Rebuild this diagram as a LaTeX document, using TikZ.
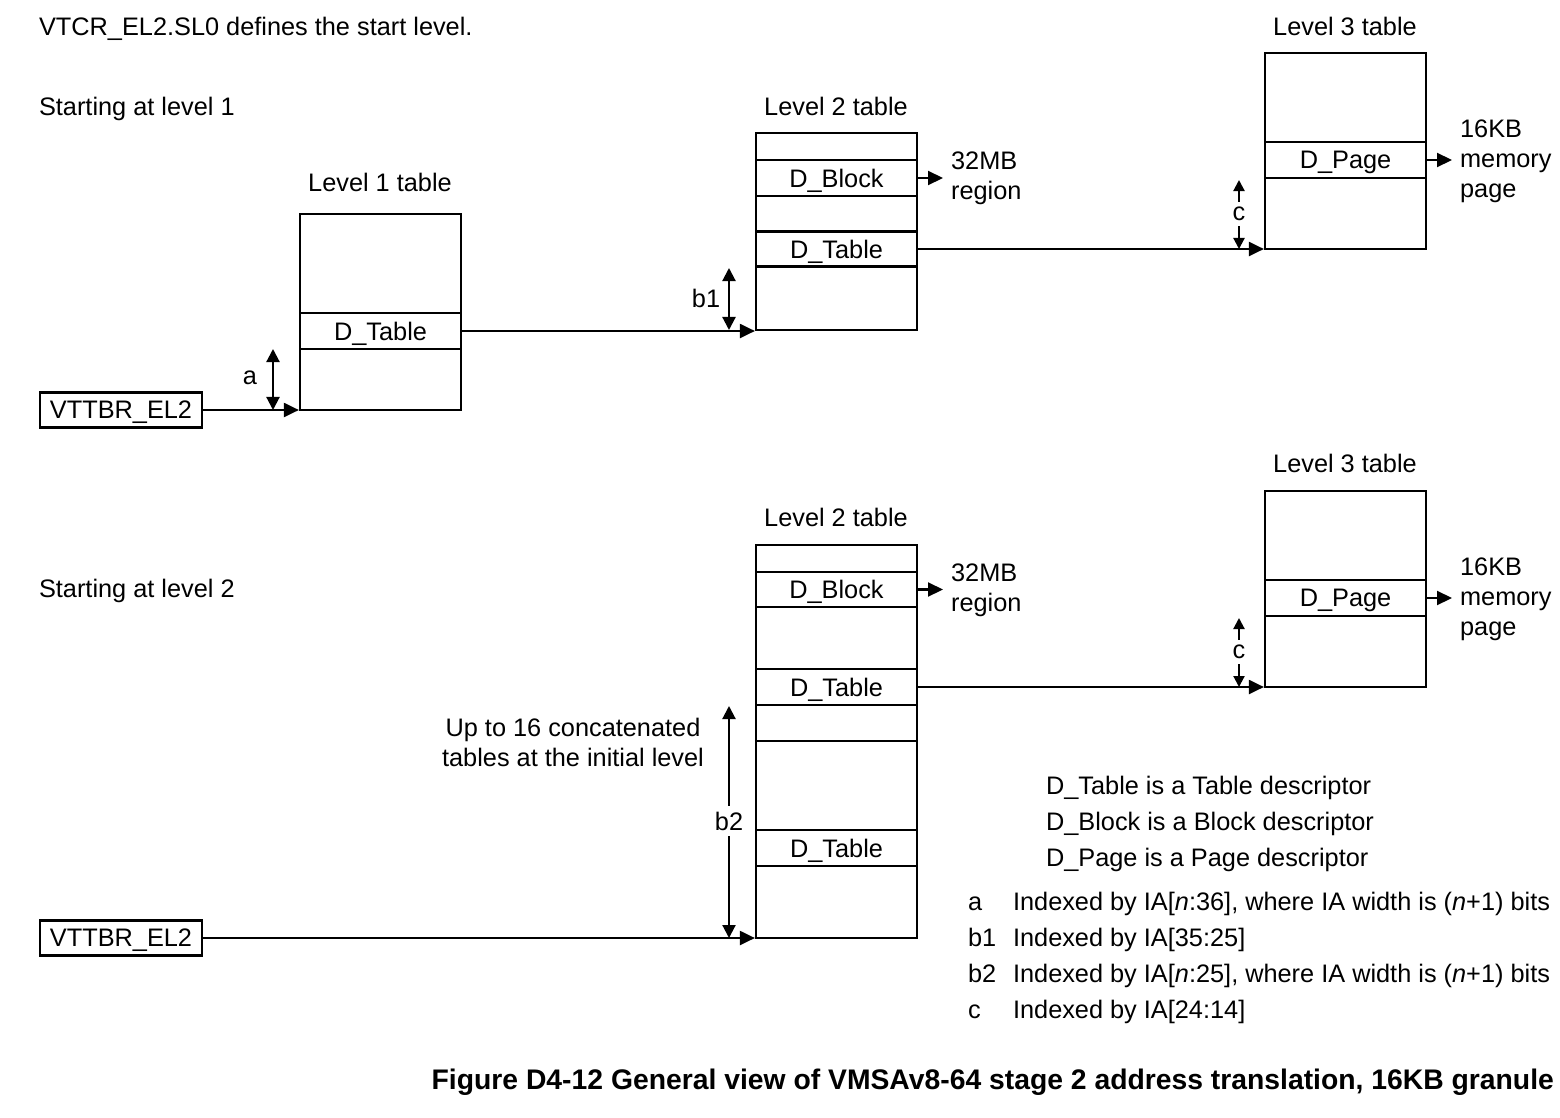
\documentclass[tikz,border=0pt]{standalone}
\usepackage{fontspec}
\setmainfont{Liberation Sans}
\usetikzlibrary{arrows.meta,positioning}

\tikzset{
  tblbox/.style={draw, minimum width=1.61cm, inner sep=0pt},
  entry/.style={draw, minimum width=1.61cm, minimum height=0.36cm, inner sep=0pt, text depth=0pt},
  regbox/.style={draw, minimum width=1.62cm, minimum height=0.35cm, inner sep=0pt, text depth=0pt},
  txt/.style={inner sep=0pt},
  endtxt/.style={align=left, inner xsep=2pt, inner ysep=0pt},
  ptr/.style={-{Triangle[length=1.5mm,width=1.4mm]}},
  idx/.style={{Triangle[length=1.3mm,width=1.3mm]}-{Triangle[length=1.3mm,width=1.3mm]}},
  idxc/.style={{Triangle[length=1.1mm,width=1.1mm]}-{Triangle[length=1.1mm,width=1.1mm]}},
}

\begin{document}
\begin{tikzpicture}[x=0.01cm, y=-0.01cm, line width=0.6pt, font=\fontsize{7.2}{8.5}\selectfont]

  \useasboundingbox (0,0) rectangle (1560,1118);

  % headings
  \node[txt, anchor=base west] (sl0) at (38,35) {VTCR\_EL2.SL0 defines the start level.};
  \node[txt, anchor=base west] (start1) at (38,115) {Starting at level 1};
  \node[txt, anchor=base west] (start2) at (38,597) {Starting at level 2};

  % ---- start at level 1 ----
  \node[regbox] (ttbr1) at (121,410) {VTTBR\_EL2};

  \node[tblbox, minimum height=1.96cm] (l1) at (380.5,312) {};
  \node[entry] (l1dt) at (380.5,331) {D\_Table};
  \node[txt] (l1lab) at (380,182) {Level 1 table};

  \node[tblbox, minimum height=1.97cm] (l2) at (836.5,231.5) {};
  \node[entry] (l2db) at (836.5,178) {D\_Block};
  \node[entry, minimum height=0.35cm] (l2dt) at (836.5,249) {D\_Table};
  \node[txt] (l2lab) at (836,106) {Level 2 table};
  \node[endtxt, anchor=west] (l2mem) at (943,178) {32MB\\region};

  \node[tblbox, minimum height=1.96cm] (l3) at (1345.5,151) {};
  \node[entry] (l3dp) at (1345.5,160) {D\_Page};
  \node[txt] (l3lab) at (1345,26) {Level 3 table};
  \node[endtxt, anchor=west] (l3mem) at (1452,161) {16KB\\memory\\page};

  \draw[ptr] (ttbr1.east) -- (ttbr1.east -| l1.west);
  \draw[ptr] (l1dt.east) -- (l1dt.east -| l2.west);
  \draw[ptr] (l2dt.east) -- (l2dt.east -| l3.west);
  \draw[ptr] (l2db.east) -- (l2db.east -| l2mem.west);
  \draw[ptr] (l3dp.east) -- (l3dp.east -| l3mem.west);

  \coordinate (a1) at (273,349);
  \coordinate (a2) at (273,410);
  \draw[idx] (a1) -- (a2);
  \node[txt] (alab) at (250,378) {a};

  \coordinate (b1t) at (729,268);
  \coordinate (b1b) at (729,330);
  \draw[idx] (b1t) -- (b1b);
  \node[txt] (b1lab) at (706,298) {b1};

  \coordinate (c1t) at (1239,180);
  \coordinate (c1b) at (1239,249);
  \draw[idxc] (c1t) -- (c1b);
  \node[fill=white, inner sep=1.5pt] (c1lab) at (1239,214) {c};

  % ---- start at level 2 ----
  \node[regbox] (ttbr2) at (121,938) {VTTBR\_EL2};

  \node[tblbox, minimum height=3.93cm] (l2b) at (836.5,741.5) {};
  \node[entry, minimum height=0.35cm] (l2bdb) at (836.5,589.5) {D\_Block};
  \node[entry] (l2bdt) at (836.5,687) {D\_Table};
  \node[entry] (l2bdt2) at (836.5,848) {D\_Table};
  \coordinate (cut) at (0,741);
  \draw (cut -| l2b.west) -- (cut -| l2b.east);
  \node[txt] (l2blab) at (836,517) {Level 2 table};
  \node[endtxt, anchor=west] (l2bmem) at (943,590) {32MB\\region};

  \node[tblbox, minimum height=1.96cm] (l3b) at (1345.5,589) {};
  \node[entry] (l3bdp) at (1345.5,598) {D\_Page};
  \node[txt] (l3blab) at (1345,463) {Level 3 table};
  \node[endtxt, anchor=west] (l3bmem) at (1452,599) {16KB\\memory\\page};

  \draw[ptr] (ttbr2.east) -- (ttbr2.east -| l2b.west);
  \draw[ptr] (l2bdt.east) -- (l2bdt.east -| l3b.west);
  \draw[ptr] (l2bdb.east) -- (l2bdb.east -| l2bmem.west);
  \draw[ptr] (l3bdp.east) -- (l3bdp.east -| l3bmem.west);

  \coordinate (b2t) at (729,706);
  \coordinate (b2b) at (729,938);
  \draw[idx] (b2t) -- (b2b);
  \node[fill=white, inner sep=1.5pt] (b2lab) at (729,821) {b2};
  \node[txt, align=center] (concat) at (573,742) {Up to 16 concatenated\\tables at the initial level};

  \coordinate (c2t) at (1239,618);
  \coordinate (c2b) at (1239,687);
  \draw[idxc] (c2t) -- (c2b);
  \node[fill=white, inner sep=1.5pt] (c2lab) at (1239,652) {c};

  % legend
  \node[txt, anchor=base west] (lgt) at (1045,794) {D\_Table is a Table descriptor};
  \node[txt, anchor=base west] (lgb) at (1045,830) {D\_Block is a Block descriptor};
  \node[txt, anchor=base west] (lgp) at (1045,866) {D\_Page is a Page descriptor};

  \node[txt, anchor=base west] (ka) at (967,910) {a};
  \node[txt, anchor=base west] (kb1) at (967,946) {b1};
  \node[txt, anchor=base west] (kb2) at (967,982) {b2};
  \node[txt, anchor=base west] (kc) at (967,1018) {c};
  \node[txt, anchor=base west] (kat) at (1012,910) {Indexed by IA[\textit{n}:36], where IA width is (\textit{n}+1) bits};
  \node[txt, anchor=base west] (kb1t) at (1012,946) {Indexed by IA[35:25]};
  \node[txt, anchor=base west] (kb2t) at (1012,982) {Indexed by IA[\textit{n}:25], where IA width is (\textit{n}+1) bits};
  \node[txt, anchor=base west] (kct) at (1012,1018) {Indexed by IA[24:14]};

  % caption
  \node[txt, anchor=base east, font=\bfseries\fontsize{8.05}{9.5}\selectfont] (cap) at (1555,1089)
    {Figure D4-12 General view of VMSAv8-64 stage 2 address translation, 16KB granule};

\end{tikzpicture}
\end{document}
